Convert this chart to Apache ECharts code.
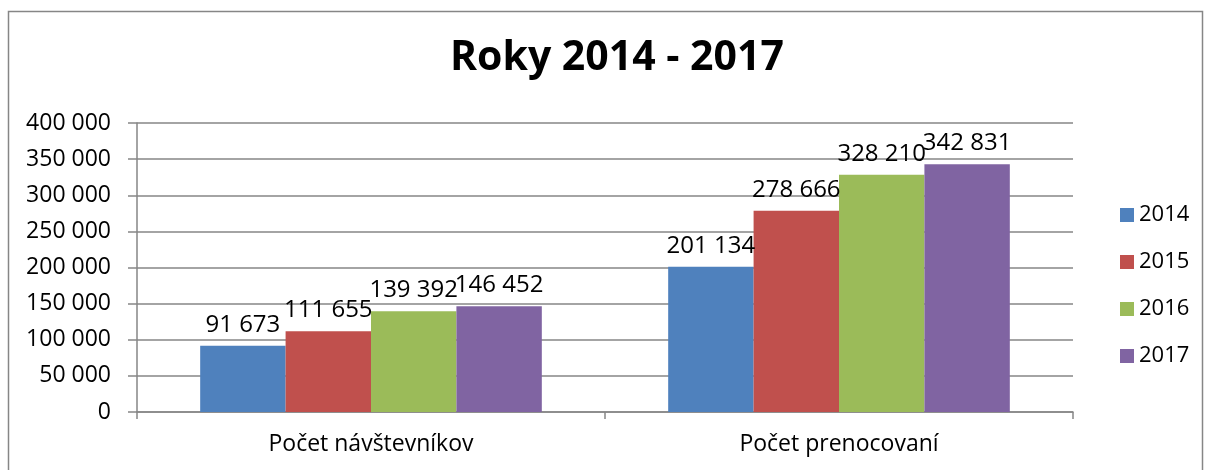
<!DOCTYPE html>
<html>
<head>
    <meta charset="UTF-8">
    <title>Roky 2014 - 2017</title>
    <script src="https://cdn.jsdelivr.net/npm/echarts@6/dist/echarts.min.js"></script>
</head>
<body style="margin:0;background:#fff;">
    <div id="chart" style="width:1206px;height:470px;"></div>
    <script>
        var categories = ['Počet návštevníkov', 'Počet prenocovaní'];
        var years = ['2014', '2015', '2016', '2017'];
        var v2014 = [91673, 201134];
        var v2015 = [111655, 278666];
        var v2016 = [139392, 328210];
        var v2017 = [146452, 342831];
        var colors = ['#4F81BD', '#C0504D', '#9BBB59', '#8064A2'];

        var font = '"Open Sans", "Noto Sans", sans-serif';
        function fmt(v) {
            return String(v).replace(/\B(?=(\d{3})+(?!\d))/g, ' ');
        }

        var seriesData = [v2014, v2015, v2016, v2017];
        var series = years.map(function (y, i) {
            return {
                name: y,
                type: 'bar',
                data: seriesData[i],
                barGap: '0%',
                barCategoryGap: '27%',
                itemStyle: { color: colors[i] },
                label: {
                    show: true,
                    position: 'top',
                    distance: 9,
                    color: '#000',
                    fontFamily: font,
                    fontSize: 24,
                    formatter: function (p) { return fmt(p.value); }
                }
            };
        });

        var chart = echarts.init(document.getElementById('chart'), null, { renderer: 'canvas' });
        chart.setOption({
            backgroundColor: '#fff',
            animation: false,
            title: {
                text: 'Roky 2014 - 2017',
                left: 445,
                top: 33,
                textStyle: { fontFamily: font, fontSize: 41, fontWeight: 'bold', color: '#000' }
            },
            graphic: [{
                type: 'rect',
                shape: { x: 8.5, y: 11.5, width: 1194, height: 470 },
                style: { fill: 'none', stroke: '#868686', lineWidth: 1.5 }
            }],
            legend: {
                orient: 'vertical',
                left: 1115,
                top: 199,
                itemWidth: 14,
                itemHeight: 14,
                itemGap: 25,
                icon: 'rect',
                textStyle: { fontFamily: font, fontSize: 22, color: '#000' },
                data: years
            },
            grid: { left: 137, right: 133, top: 123, bottom: 58 },
            xAxis: {
                type: 'category',
                data: categories,
                axisLine: { lineStyle: { color: '#868686', width: 1.5 } },
                axisTick: { show: true, length: 7, lineStyle: { color: '#868686', width: 1.5 } },
                axisLabel: { fontFamily: font, fontSize: 23, color: '#000', margin: 21 }
            },
            yAxis: {
                type: 'value',
                min: 0,
                max: 400000,
                interval: 50000,
                axisLine: { show: true, lineStyle: { color: '#868686', width: 1.5 } },
                axisTick: { show: true, length: 9, lineStyle: { color: '#868686', width: 1.5 } },
                splitLine: { lineStyle: { color: '#868686', width: 1.5 } },
                axisLabel: {
                    fontFamily: font, fontSize: 23, color: '#000', margin: 26,
                    formatter: function (v) { return fmt(v); }
                }
            },
            series: series
        });
    </script>
</body>
</html>
